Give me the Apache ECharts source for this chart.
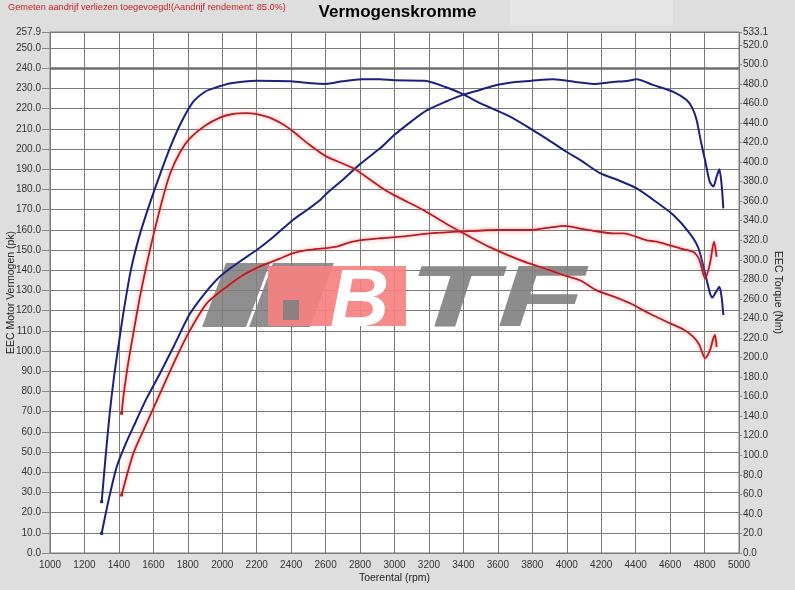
<!DOCTYPE html>
<html><head><meta charset="utf-8">
<script src="https://cdn.jsdelivr.net/npm/echarts@6/dist/echarts.min.js"></script>
<style>html,body{margin:0;padding:0;background:#dedede}#c{width:795px;height:590px}</style>
</head><body><div id="c"></div>
<script>
const titleText = 'Vermogenskromme';
const noteText = 'Gemeten aandrijf verliezen toegevoegd!(Aandrijf rendement: 85.0%)';
const xName = 'Toerental (rpm)';
const leftName = 'EEC Motor Vermogen (pk)';
const rightName = 'EEC Torque (Nm)';
const rpmMin = 1000, rpmMax = 5000, rpmStep = 200;
const pkMin = 0, pkMax = 257.9, pkStep = 10;
const nmMin = 0, nmMax = 533.1, nmStep = 20;
const refLinePk = 240;

// [rpm, Nm]
const blueTorque = [[1300,52.5],[1320,93],[1345,140],[1370,178],[1400,215],[1430,250],[1470,290],[1520,325],[1580,358],[1640,388],[1700,416],[1760,440],[1832,461.8],[1900,472],[1948,475.4],[2050,480.6],[2200,483.3],[2400,482.7],[2520,480.6],[2600,480],[2700,482.7],[2810,484.7],[2916,484.7],[3000,483.7],[3177,483.3],[3300,476.5],[3400,469.2],[3500,460],[3671,446.5],[3800,433],[3884,423.8],[4000,410.3],[4077,402.3],[4193,388.6],[4300,381.4],[4406,373.1],[4500,361.7],[4619,345.8],[4716,326.6],[4764,312.1],[4803,286.3],[4830,266.7],[4845,261.5],[4865,266.7],[4886,272.4],[4900,260.5],[4909,243.5]];
// [rpm, pk]
const bluePower = [[1300,9.7],[1340,26.1],[1387,42.6],[1440,54.2],[1484,62.4],[1560,76.4],[1639,89],[1720,102.6],[1813,118.5],[1900,128.7],[1987,136.9],[2100,144.2],[2200,150],[2300,156.7],[2412,165],[2500,170.3],[2567,174.6],[2606,178],[2700,184.8],[2800,192.5],[2916,200.3],[3000,207],[3100,213.8],[3187,219.1],[3300,223.5],[3400,226.9],[3500,229.3],[3593,231.7],[3700,233.2],[3787,233.7],[3922,234.5],[4050,233.2],[4154,232.2],[4270,233.2],[4350,233.7],[4406,234.5],[4500,231.7],[4619,228.3],[4696,224.2],[4730,220.1],[4754,214.3],[4780,203.2],[4803,194.5],[4830,183.8],[4851,181.4],[4870,186.3],[4886,189.9],[4900,181.4],[4909,170.6]];
// [rpm, Nm]
const redTorque = [[1416,143],[1426,160],[1450,190],[1484,225],[1522,262],[1561,295],[1600,325],[1650,360],[1697,388],[1755,410],[1813,424.4],[1900,437.2],[1987,445.5],[2060,449.2],[2142,450],[2258,446.5],[2340,439.9],[2412,431.2],[2500,418.6],[2606,405.6],[2761,393.6],[2916,374.8],[3000,365.9],[3167,351],[3300,336.9],[3400,327.2],[3550,313.2],[3729,299.7],[3900,289.4],[4000,283.2],[4077,279.1],[4174,268.7],[4270,262.5],[4367,255.5],[4480,245],[4600,235],[4680,228.4],[4735,221.2],[4770,212.9],[4803,199.3],[4830,206.7],[4850,219.1],[4861,223.2],[4870,210.8]];
// [rpm, pk]
const redPower = [[1416,28.7],[1484,49.3],[1561,64.2],[1639,79],[1736,97.2],[1813,110.3],[1910,123.6],[2026,131.8],[2122,137.6],[2239,142.6],[2330,145.6],[2412,148.4],[2500,150],[2587,150.8],[2664,151.6],[2740,153.8],[2819,155],[2916,155.8],[3050,156.7],[3206,158.2],[3400,159.2],[3593,159.9],[3787,159.9],[3900,161.1],[3990,161.9],[4077,160.6],[4154,159.5],[4270,158.2],[4328,158.2],[4464,154.8],[4522,154.1],[4658,150.8],[4735,149],[4770,145.1],[4803,135.9],[4830,142.7],[4855,154.1],[4870,146.6]];

const FONT = "'Liberation Sans',Arial,sans-serif";
const BLUE = '#1b2180';
const RED = '#b81c20';

const chart = echarts.init(document.getElementById('c'), null, {renderer: 'canvas'});

function lineSeries(name, data, yIdx, color, glow) {
  return {
    name, type: 'line', data, yAxisIndex: yIdx, smooth: 0.25,
    showAllSymbol: true,
    symbol: (v, p) => p.dataIndex === 0 ? 'rect' : 'none',
    symbolSize: 3,
    itemStyle: {color},
    lineStyle: glow
      ? {color, width: 1.8, shadowColor: 'rgba(255,110,110,0.7)', shadowBlur: 4}
      : {color, width: 2},
    silent: true, animation: false, z: 3
  };
}

const s2 = lineSeries('bluePower', bluePower, 0, BLUE, false);
s2.markLine = {
  silent: true, symbol: 'none', animation: false,
  label: {show: false},
  lineStyle: {color: '#6e6e6e', width: 2.5, type: 'solid'},
  data: [{yAxis: refLinePk}]
};

const option = {
  backgroundColor: '#dedede',
  animation: false,
  title: {
    text: titleText, left: 'center', top: 4, padding: 0,
    textStyle: {fontFamily: FONT, fontSize: 17, fontWeight: 'bold', color: '#000'}
  },
  grid: {
    left: 50, right: 56, top: 32, bottom: 37,
    outerBoundsMode: 'none', containLabel: false,
    show: true, backgroundColor: '#ffffff', borderColor: '#7a7a7a', borderWidth: 1
  },
  graphic: [
    {type: 'rect', left: 510, top: 0, z: 0, shape: {width: 163, height: 25}, style: {fill: '#e7e6e6'}},
    {type: 'text', left: 8, top: 3, z: 5, style: {text: noteText, fill: '#cc2020', font: "9.2px " + FONT}},
    // watermark logo
    {type: 'polygon', z: 1, silent: true, shape: {points: [[226,263],[270,263],[246,327],[202,327]]}, style: {fill: 'rgba(128,128,128,0.88)'}},
    {type: 'polygon', z: 1, silent: true, shape: {points: [[273,263],[334,263],[310,327],[249,327]]}, style: {fill: 'rgba(128,128,128,0.88)'}},
    {type: 'rect', z: 1, silent: true, shape: {x: 268, y: 266, width: 138, height: 60}, style: {fill: 'rgba(246,128,128,0.92)'}},
    {type: 'rect', z: 1, silent: true, shape: {x: 283, y: 300, width: 16, height: 20}, style: {fill: 'rgba(128,128,128,0.88)'}},
    {type: 'text', z: 1, silent: true, x: 330, y: 262, style: {text: 'B', fill: '#ffffff', font: "italic bold 82px 'Liberation Sans',Arial,sans-serif"}},
    {type: 'text', z: 1, silent: true, x: 408, y: 258, scaleX: 1.65, style: {text: 'TF', fill: 'rgba(128,128,128,0.9)', font: "italic bold 88px 'Liberation Sans',Arial,sans-serif"}}
  ],
  xAxis: {
    type: 'value', min: rpmMin, max: rpmMax, interval: rpmStep,
    name: xName, nameLocation: 'middle', nameGap: 20, nameMoveOverlap: false,
    nameTextStyle: {fontFamily: FONT, fontSize: 10.5, color: '#222'},
    axisLine: {show: false}, axisTick: {show: false},
    axisLabel: {fontFamily: FONT, fontSize: 10, color: '#333', margin: 7, formatter: v => String(v)},
    splitLine: {show: true, lineStyle: {color: '#7a7a7a', width: 1}}
  },
  yAxis: [
    {
      type: 'value', min: pkMin, max: pkMax, interval: pkStep, position: 'left',
      name: leftName, nameLocation: 'middle', nameGap: 33, nameMoveOverlap: false,
      nameTextStyle: {fontFamily: FONT, fontSize: 10.5, color: '#222'},
      axisLine: {show: false},
      axisTick: {show: true, length: 8, lineStyle: {color: '#888'}},
      axisLabel: {fontFamily: FONT, fontSize: 10, color: '#333', margin: 9, formatter: v => v.toFixed(1)},
      splitLine: {show: true, lineStyle: {color: '#7a7a7a', width: 1}}
    },
    {
      type: 'value', min: nmMin, max: nmMax, interval: nmStep, position: 'right',
      name: rightName, nameLocation: 'middle', nameGap: 33, nameRotate: -90, nameMoveOverlap: false,
      nameTextStyle: {fontFamily: FONT, fontSize: 10.5, color: '#222'},
      axisLine: {show: false},
      axisTick: {show: true, length: 3, lineStyle: {color: '#888'}},
      axisLabel: {fontFamily: FONT, fontSize: 10, color: '#333', margin: 4, formatter: v => v.toFixed(1)},
      splitLine: {show: false}
    }
  ],
  series: [
    lineSeries('blueTorque', blueTorque, 1, BLUE, false),
    s2,
    lineSeries('redTorque', redTorque, 1, RED, true),
    lineSeries('redPower', redPower, 0, RED, true)
  ]
};
chart.setOption(option);
</script></body></html>
